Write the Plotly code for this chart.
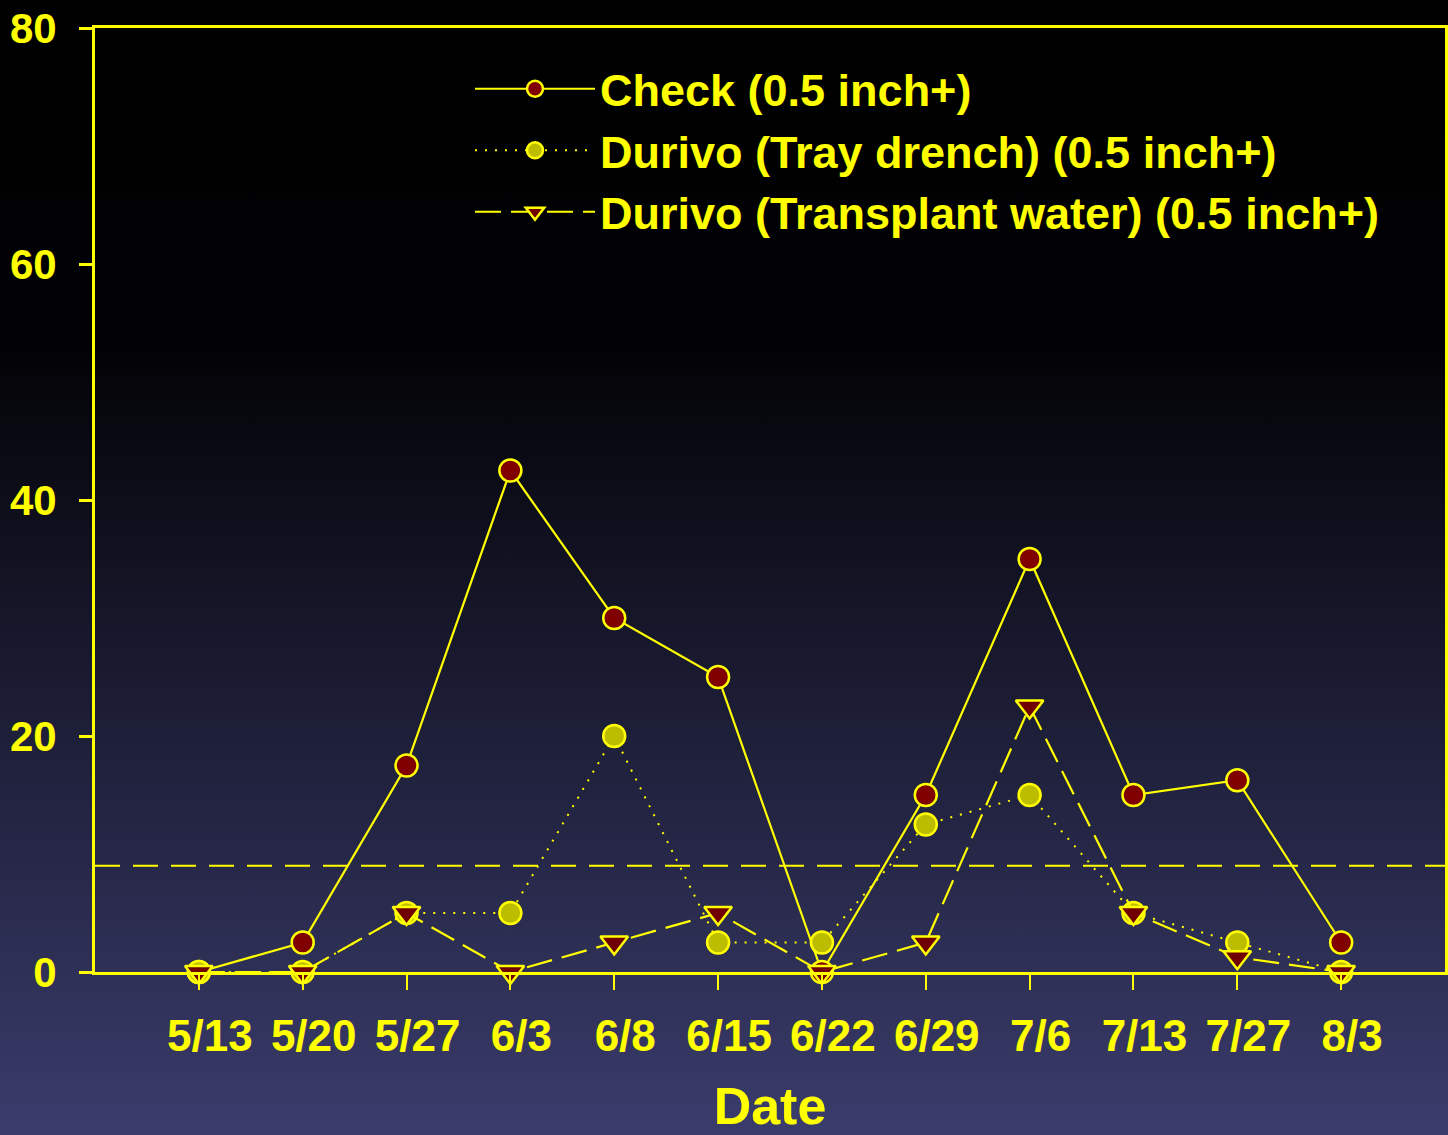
"""Leaf damage over the season: check vs. two Durivo treatments."""

import plotly.graph_objects as go

# ---------------------------------------------------------------------------
# Data
# ---------------------------------------------------------------------------

dates = ["5/13", "5/20", "5/27", "6/3", "6/8", "6/15", "6/22", "6/29", "7/6", "7/13", "7/27", "8/3"]
check = [0, 2.5, 17.5, 42.5, 30, 25, 0, 15, 35, 15, 16.25, 2.5]
tray_drench = [0, 0, 5, 5, 20, 2.5, 2.5, 12.5, 15, 5, 2.5, 0]
transplant_water = [0, 0, 5, 0, 2.5, 5, 0, 2.5, 22.5, 5, 1.25, 0]
threshold = 9
y_ticks = [0, 20, 40, 60, 80]

# ---------------------------------------------------------------------------
# Style
# ---------------------------------------------------------------------------

YELLOW = "#FFFF00"
FONT = "Liberation Sans, Arial, sans-serif"

_M = dict(l=95, r=3, t=28, b=163)
_PW = 1448 - _M["l"] - _M["r"]
_PH = 1135 - _M["t"] - _M["b"]

_BG_SVG = (
    "data:image/svg+xml;utf8,"
    "<svg xmlns='http://www.w3.org/2000/svg' width='10' height='100' preserveAspectRatio='none'>"
    "<defs><linearGradient id='g' x1='0' y1='0' x2='0' y2='1'>"
    "<stop offset='0' stop-color='%23000000'/>"
    "<stop offset='0.3' stop-color='%23020205'/>"
    "<stop offset='1' stop-color='%233a3c6c'/>"
    "</linearGradient></defs>"
    "<rect width='10' height='100' fill='url(%23g)'/></svg>"
)

x_idx = list(range(len(dates)))

fig = go.Figure()
fig.add_trace(
    go.Scatter(
        x=x_idx,
        y=check,
        mode="lines+markers",
        name="Check (0.5 inch+)",
        line=dict(color=YELLOW, width=2.2),
        marker=dict(symbol="circle", size=22, color="#800000", line=dict(color=YELLOW, width=2.5)),
    )
)
fig.add_trace(
    go.Scatter(
        x=x_idx,
        y=tray_drench,
        mode="lines+markers",
        name="Durivo (Tray drench) (0.5 inch+)",
        line=dict(color=YELLOW, width=2, dash="2px,8px"),
        marker=dict(symbol="circle", size=22, color="#BDBD00", line=dict(color=YELLOW, width=2.5)),
    )
)
fig.add_trace(
    go.Scatter(
        x=x_idx,
        y=transplant_water,
        mode="lines+markers",
        name="Durivo (Transplant water) (0.5 inch+)",
        line=dict(color=YELLOW, width=2.2, dash="26px,10px"),
        marker=dict(symbol="triangle-down", size=24, color="#700000", line=dict(color=YELLOW, width=2.5)),
    )
)

# threshold line
fig.add_hline(y=threshold, line=dict(color=YELLOW, width=2, dash="25px,13px"), layer="below")

fig.update_layout(
    width=1448,
    height=1135,
    margin=_M,
    paper_bgcolor="#000000",
    plot_bgcolor="rgba(0,0,0,0)",
    font=dict(family=FONT, color=YELLOW, size=44, weight="bold"),
    images=[
        dict(
            source=_BG_SVG,
            xref="paper", yref="paper",
            x=-_M["l"] / _PW, y=1 + _M["t"] / _PH,
            sizex=1448 / _PW, sizey=1135 / _PH,
            xanchor="left", yanchor="top",
            sizing="stretch", layer="below",
        )
    ],
    showlegend=True,
    legend=dict(
        x=(470 - _M["l"]) / _PW, y=1 - (53 - _M["t"]) / _PH,
        xanchor="left", yanchor="top",
        bgcolor="rgba(0,0,0,0)",
        font=dict(family=FONT, size=45, color=YELLOW, weight="bold"),
        itemwidth=120,
        tracegroupgap=0,
    ),
    xaxis=dict(
        range=[-1, 12],
        automargin=False,
        tickmode="array",
        tickvals=x_idx,
        ticktext=dates,
        ticks="outside",
        ticklen=15,
        tickwidth=2,
        tickcolor=YELLOW,
        ticklabelstandoff=8,
        ticklabelshift=11,
        ticklabeloverflow="allow",
        showline=True,
        linecolor=YELLOW,
        linewidth=3,
        mirror=True,
        showgrid=False,
        zeroline=False,
        tickfont=dict(family=FONT, size=44, color=YELLOW, weight="bold"),
        title=dict(text="Date", font=dict(family=FONT, size=52, color=YELLOW, weight="bold"), standoff=40),
    ),
    yaxis=dict(
        range=[0, 80],
        automargin=False,
        tickmode="array",
        tickvals=y_ticks,
        ticks="outside",
        ticklen=13,
        tickwidth=3,
        tickcolor=YELLOW,
        ticklabelstandoff=14,
        ticklabeloverflow="allow",
        showline=True,
        linecolor=YELLOW,
        linewidth=3,
        mirror=True,
        showgrid=False,
        zeroline=False,
        tickfont=dict(family=FONT, size=42, color=YELLOW, weight="bold"),
    ),
)

fig.update_traces(cliponaxis=False)

# drop the browser's default body margin so the figure fills the window
fig.write_html(
    "out.html",
    config=dict(displayModeBar=False),
    post_script="document.body.style.margin = '0';",
)
